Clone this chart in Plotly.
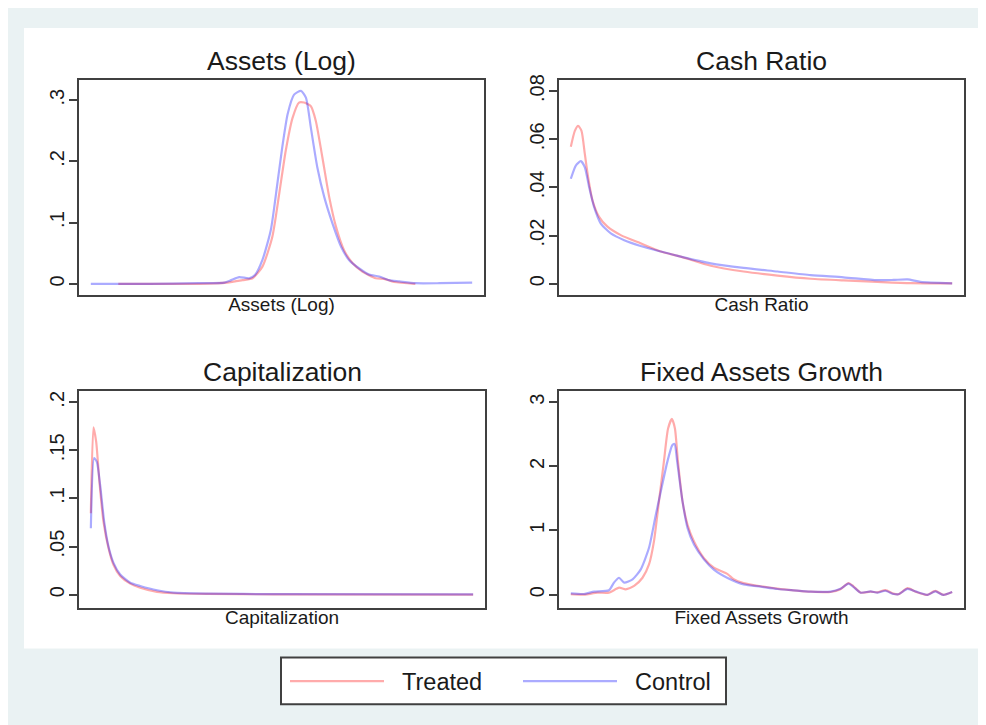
import plotly.graph_objects as go

# page shows figure at an 8px body offset; figure coords = reference px - 8
OFF = 8
W, H = 978, 717

# ---------------- data (x = position along each variable's support, 0-100) ----------------
assets_x_ctrl = [0, 15.3, 28.4, 35.0, 36.8, 38.9, 41.5, 43.1, 45.0, 47.2, 48.9, 50.2, 51.6, 53.3, 55.1,
                 56.4, 57.7, 59.4, 61.2, 63.4, 65.6, 67.7, 70.4, 73.0, 75.6, 78.2, 80.9, 85.1, 91.4, 100]
assets_y_ctrl = [0, 0, 0.001, 0.002, 0.006, 0.011, 0.009, 0.015, 0.039, 0.088, 0.163, 0.223, 0.277, 0.309, 0.315,
                 0.304, 0.255, 0.190, 0.142, 0.098, 0.061, 0.039, 0.025, 0.015, 0.012, 0.006, 0.004, 0.001, 0.001, 0.002]
assets_x_trt = [7.2, 28.4, 35.7, 39.8, 42.4, 45.0, 47.6, 49.4, 51.1, 52.9, 54.6, 55.9, 57.7, 59.0, 60.7,
                62.5, 64.3, 66.4, 68.6, 71.2, 74.7, 76.9, 79.5, 85.1]
assets_y_trt = [0, 0, 0.002, 0.006, 0.009, 0.028, 0.077, 0.147, 0.217, 0.271, 0.296, 0.296, 0.290, 0.266, 0.207,
                0.142, 0.093, 0.055, 0.034, 0.020, 0.009, 0.008, 0.003, 0]

cash_x_trt = [0, 1.05, 1.91, 2.80, 3.67, 4.53, 5.69, 7.41, 9.61, 13.1, 18.3, 23.6, 28.8, 36.7, 45.3,
              54.2, 62.9, 71.5, 80.4, 89.1, 100]
cash_y_trt = [0.0569, 0.0635, 0.0656, 0.0635, 0.0539, 0.0443, 0.0346, 0.0278, 0.0237, 0.0202, 0.0168,
              0.0134, 0.0113, 0.0075, 0.0051, 0.0034, 0.0021, 0.0014, 0.0008, 0.0003, 0.0002]
cash_x_ctrl = [0, 1.31, 2.62, 3.67, 4.79, 6.10, 7.86, 10.5, 14.0, 18.3, 23.6, 28.8, 36.7, 45.3, 54.2,
               62.9, 71.5, 80.4, 84.6, 88.3, 91.7, 100]
cash_y_ctrl = [0.0436, 0.0491, 0.0509, 0.0484, 0.0402, 0.0319, 0.0250, 0.0209, 0.0181, 0.0157, 0.0134,
               0.0113, 0.0085, 0.0066, 0.0051, 0.0036, 0.0027, 0.0015, 0.0016, 0.0018, 0.0008, 0.0002]

cap_x = [0, 0.68, 1.39, 2.25, 3.30, 4.61, 5.92, 7.67, 10.3, 12.9, 17.3, 21.6, 30.4, 47.8, 100]
cap_y_trt = [0.0847, 0.174, 0.159, 0.117, 0.076, 0.0485, 0.031, 0.0193, 0.0114, 0.0072, 0.0028,
             0.0014, 0.0007, 0.0003, 0]
cap_x_ctrl = [0, 0.86, 1.57, 2.43, 3.48, 4.61, 5.92, 7.67, 10.3, 12.9, 17.3, 21.6, 30.4, 47.8, 100]
cap_y_ctrl = [0.069, 0.142, 0.138, 0.114, 0.076, 0.050, 0.033, 0.021, 0.0124, 0.009, 0.0045,
              0.002, 0.001, 0.0005, 0.0002]

fag_x_trt = [0, 3.48, 7.0, 10.0, 12.65, 14.4, 16.6, 18.8, 20.5, 21.8, 23.1, 24.4, 25.5, 26.5, 27.3,
             28.1, 29.3, 30.6, 32.3, 34.9, 37.5, 41.1, 42.7, 45.3, 49.8, 54.2, 58.4, 62.9, 68.1, 70.7,
             72.8, 74.1, 76.0, 78.6, 80.4, 82.5, 84.6, 85.9, 88.3, 90.4, 92.5, 93.5, 95.6, 97.7, 100]
fag_y_trt = [0.006, 0.0, 0.03, 0.03, 0.108, 0.083, 0.135, 0.263, 0.47, 0.83, 1.45, 2.07, 2.59, 2.74, 2.59,
             2.07, 1.45, 1.09, 0.83, 0.57, 0.42, 0.32, 0.24, 0.18, 0.13, 0.093, 0.067, 0.046, 0.041, 0.083,
             0.18, 0.13, 0.031, 0.046, 0.036, 0.07, 0.015, 0.005, 0.1, 0.046, 0.005, -0.005, 0.057, -0.005, 0.04]
fag_x_ctrl = [0, 3.48, 6.1, 10.0, 11.3, 12.65, 14.0, 16.2, 18.3, 20.5, 22.3, 23.6, 25.3, 26.6, 27.2,
              27.9, 29.3, 30.6, 32.3, 34.9, 37.5, 41.1, 45.3, 49.8, 54.2, 58.4, 62.9, 68.1, 70.7, 72.8,
              74.1, 76.0, 78.6, 80.4, 82.5, 84.6, 85.9, 88.3, 90.4, 92.5, 93.5, 95.6, 97.7, 100]
fag_y_ctrl = [0.02, 0.01, 0.046, 0.068, 0.186, 0.263, 0.186, 0.238, 0.39, 0.73, 1.25, 1.61, 2.07, 2.33, 2.35,
              2.07, 1.45, 1.04, 0.78, 0.55, 0.39, 0.26, 0.16, 0.124, 0.088, 0.067, 0.046, 0.046, 0.09, 0.17,
              0.12, 0.03, 0.05, 0.03, 0.06, 0.01, 0.005, 0.09, 0.05, 0.01, -0.005, 0.05, -0.005, 0.04]

titles = ["Assets (Log)", "Cash Ratio", "Capitalization", "Fixed Assets Growth"]
ytick_vals = [[0, 0.1, 0.2, 0.3], [0, 0.02, 0.04, 0.06, 0.08], [0, 0.05, 0.1, 0.15, 0.2], [0, 1, 2, 3]]
ytick_text = [["0", ".1", ".2", ".3"], ["0", ".02", ".04", ".06", ".08"],
              ["0", ".05", ".1", ".15", ".2"], ["0", "1", "2", "3"]]
y_ranges = [[-0.0183, 0.3336], [-0.00466, 0.0848], [-0.01374, 0.2114], [-0.206, 3.17]]
series_names = ["Treated", "Control"]

# ---------------- styling ----------------
FONT = "Liberation Sans, Arial, sans-serif"
RED = "rgba(255,0,0,0.33)"
BLUE = "rgba(0,0,255,0.33)"
FRAME = "#404040"
TXT = "#1a1a1a"
BG = "#eaf2f3"

def px(v):
    return (v - OFF) / W

def py(v):
    return 1 - (v - OFF) / H

# panel pixel boxes in reference coords (left, right, top, bottom)
boxes = [(79, 484, 75, 292), (559, 964, 75, 292), (79, 485, 389, 607), (559, 964, 389, 607)]

data = [
    (assets_x_trt, assets_y_trt, assets_x_ctrl, assets_y_ctrl),
    (cash_x_trt, cash_y_trt, cash_x_ctrl, cash_y_ctrl),
    (cap_x, cap_y_trt, cap_x_ctrl, cap_y_ctrl),
    (fag_x_trt, fag_y_trt, fag_x_ctrl, fag_y_ctrl),
]

fig = go.Figure()
layout = dict(
    width=W, height=H, autosize=False,
    margin=dict(l=0, r=0, t=0, b=0),
    paper_bgcolor=BG, plot_bgcolor="white",
    font=dict(family=FONT, color=TXT),
    showlegend=True,
)

annotations = []
for i, (box, d) in enumerate(zip(boxes, data)):
    n = "" if i == 0 else str(i + 1)
    l, r, t, b = box
    xa = dict(domain=[px(l), px(r)], range=[-3.1, 103.1], showticklabels=False, ticks="",
              showgrid=False, zeroline=False, showline=True, mirror=True, linewidth=2,
              linecolor=FRAME, anchor="y" + n, fixedrange=True,
              title=dict(text=titles[i], font=dict(size=19, color=TXT), standoff=2))
    ya = dict(domain=[py(b), py(t)], range=y_ranges[i], tickmode="array",
              tickvals=ytick_vals[i], ticktext=ytick_text[i], tickangle=-90, ticks="outside",
              ticklen=8, tickwidth=1.5, tickcolor=FRAME, showgrid=False, zeroline=False,
              showline=True, mirror=True, linewidth=2, linecolor=FRAME, anchor="x" + n,
              tickfont=dict(size=20, color=TXT), ticklabelstandoff=-3, fixedrange=True)
    layout["xaxis" + n] = xa
    layout["yaxis" + n] = ya
    xt, yt, xc, yc = d
    fig.add_trace(go.Scatter(x=xt, y=yt, mode="lines", name="\u00a0\u00a0" + series_names[0],
                             line=dict(color=RED, width=2.2, shape="spline", smoothing=0.6),
                             xaxis="x" + n, yaxis="y" + n, showlegend=(i == 0), legendgroup="t",
                             legend="legend", hoverinfo="skip"))
    fig.add_trace(go.Scatter(x=xc, y=yc, mode="lines", name="\u00a0\u00a0" + series_names[1],
                             line=dict(color=BLUE, width=2.2, shape="spline", smoothing=0.6),
                             xaxis="x" + n, yaxis="y" + n, showlegend=(i == 0), legendgroup="c",
                             legend="legend2", hoverinfo="skip"))
    annotations.append(dict(text=titles[i], x=(px(l) + px(r)) / 2, y=py(t - 19), xref="paper",
                            yref="paper", xanchor="center", yanchor="middle", showarrow=False,
                            font=dict(size=26.5, color=TXT)))

layout["annotations"] = annotations
layout["shapes"] = [
    dict(type="rect", xref="paper", yref="paper", x0=px(24), x1=px(982), y0=py(648), y1=py(23),
         fillcolor="white", line=dict(width=0), layer="below"),
    dict(type="rect", xref="paper", yref="paper", x0=px(281), x1=px(726), y0=py(704), y1=py(657),
         fillcolor="white", line=dict(width=2, color=FRAME), layer="below"),
]
leg_common = dict(orientation="h", yanchor="middle", y=py(681), bgcolor="rgba(0,0,0,0)",
                  borderwidth=0, font=dict(size=23.5, color=TXT), itemwidth=94, xanchor="left")
layout["legend"] = dict(x=px(285), **leg_common)
layout["legend2"] = dict(x=px(518), **leg_common)
fig.update_layout(**layout)
fig.write_html("out.html")
